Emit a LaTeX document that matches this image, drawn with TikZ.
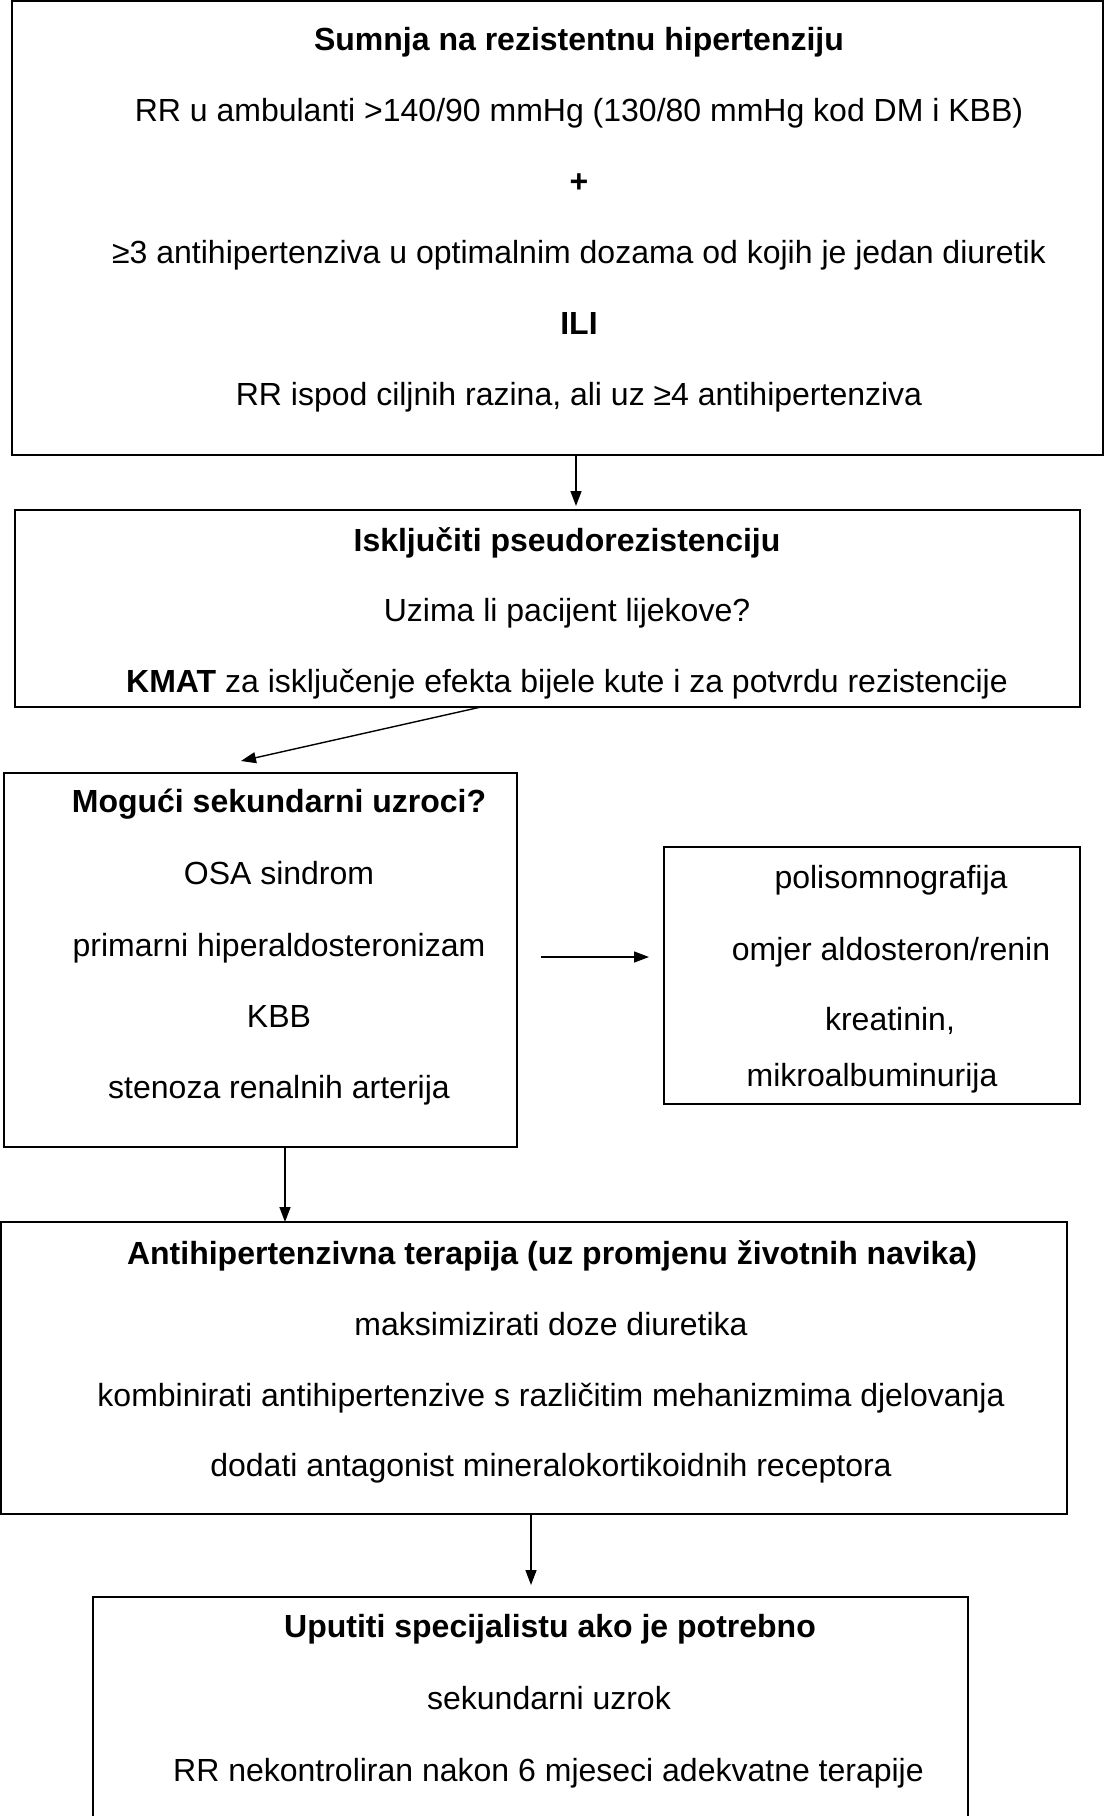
\documentclass[tikz,border=0pt]{standalone}
\usepackage{fontspec}
\setmainfont{Liberation Sans}
\usetikzlibrary{arrows.meta}
\begin{document}
\begin{tikzpicture}[x=1pt,y=-1pt,
  box/.style={draw=black, line width=1.1pt, rectangle, inner sep=0pt, outer sep=0pt},
  txt/.style={anchor=base, inner sep=0pt, font=\fontsize{32}{38}\selectfont},
  btxt/.style={txt, font=\fontsize{32}{38}\selectfont\bfseries},
  arr/.style={line width=1.4pt, -{Triangle[length=15pt, width=11pt]}}]
\useasboundingbox (0,0) rectangle (1105,1816);
\fill[white] (0,0) rectangle (1105,1816);
% boxes
\node[box, minimum width=1091pt, minimum height=454pt] (b1) at (557.5,228) {};
\node[box, minimum width=1065pt, minimum height=197pt] (b2) at (547.5,608.5) {};
\node[box, minimum width=513pt, minimum height=374pt] (b3) at (260.5,960) {};
\node[box, minimum width=416pt, minimum height=257pt] (b4) at (872,975.5) {};
\node[box, minimum width=1066pt, minimum height=292pt] (b5) at (534,1368) {};
\begin{scope}
\clip (0,0) rectangle (1105,1816);
\node[box, minimum width=875pt, minimum height=303pt] (b6) at (530.5,1748.5) {};
\end{scope}
% texts box 1
\node[btxt] (t11) at (579,50) {Sumnja na rezistentnu hipertenziju};
\node[txt] (t12) at (579,121) {RR u ambulanti >140/90 mmHg (130/80 mmHg kod DM i KBB)};
\node[btxt] (t13) at (579,192) {+};
\node[txt] (t14) at (579,263) {≥3 antihipertenziva u optimalnim dozama od kojih je jedan diuretik};
\node[btxt] (t15) at (579,334) {ILI};
\node[txt] (t16) at (579,405) {RR ispod ciljnih razina, ali uz ≥4 antihipertenziva};
% box 2
\node[btxt] (t21) at (567,551) {Isključiti pseudorezistenciju};
\node[txt] (t22) at (567,621) {Uzima li pacijent lijekove?};
\node[txt] (t23) at (567,692) {\textbf{KMAT} za isključenje efekta bijele kute i za potvrdu rezistencije};
% box 3
\node[btxt] (t31) at (279,812) {Mogući sekundarni uzroci?};
\node[txt] (t32) at (279,884) {OSA sindrom};
\node[txt] (t33) at (279,956) {primarni hiperaldosteronizam};
\node[txt] (t34) at (279,1027) {KBB};
\node[txt] (t35) at (279,1098) {stenoza renalnih arterija};
% box 4
\node[txt] (t41) at (891,888) {polisomnografija};
\node[txt] (t42) at (891,960) {omjer aldosteron/renin};
\node[txt] (t43) at (890,1030) {kreatinin,};
\node[txt] (t44) at (872,1086) {mikroalbuminurija};
% box 5
\node[btxt] (t51) at (552,1264) {Antihipertenzivna terapija (uz promjenu životnih navika)};
\node[txt] (t52) at (551,1335) {maksimizirati doze diuretika};
\node[txt] (t53) at (551,1406) {kombinirati antihipertenzive s različitim mehanizmima djelovanja};
\node[txt] (t54) at (551,1476) {dodati antagonist mineralokortikoidnih receptora};
% box 6
\node[btxt] (t61) at (550,1637) {Uputiti specijalistu ako je potrebno};
\node[txt] (t62) at (549,1709) {sekundarni uzrok};
\node[txt] (t63) at (548.5,1781) {RR nekontroliran nakon 6 mjeseci adekvatne terapije};
% connector helpers
\coordinate (x1) at (576,0);
\coordinate (x2) at (481,0);
\coordinate (e2) at (241,761);
\coordinate (s3) at (541,957);
\coordinate (e3) at (649,957);
\coordinate (x4) at (285,0);
\coordinate (x5) at (531,0);
% connectors
\draw[arr, shorten >=4pt] (b1.south -| x1) -- (b2.north -| x1);
\draw[arr] (b2.south -| x2) -- (e2);
\draw[arr] (s3) -- (e3);
\draw[arr] (b3.south -| x4) -- (b5.north -| x4);
\draw[arr, shorten >=12pt] (b5.south -| x5) -- (b6.north -| x5);
\end{tikzpicture}
\end{document}
